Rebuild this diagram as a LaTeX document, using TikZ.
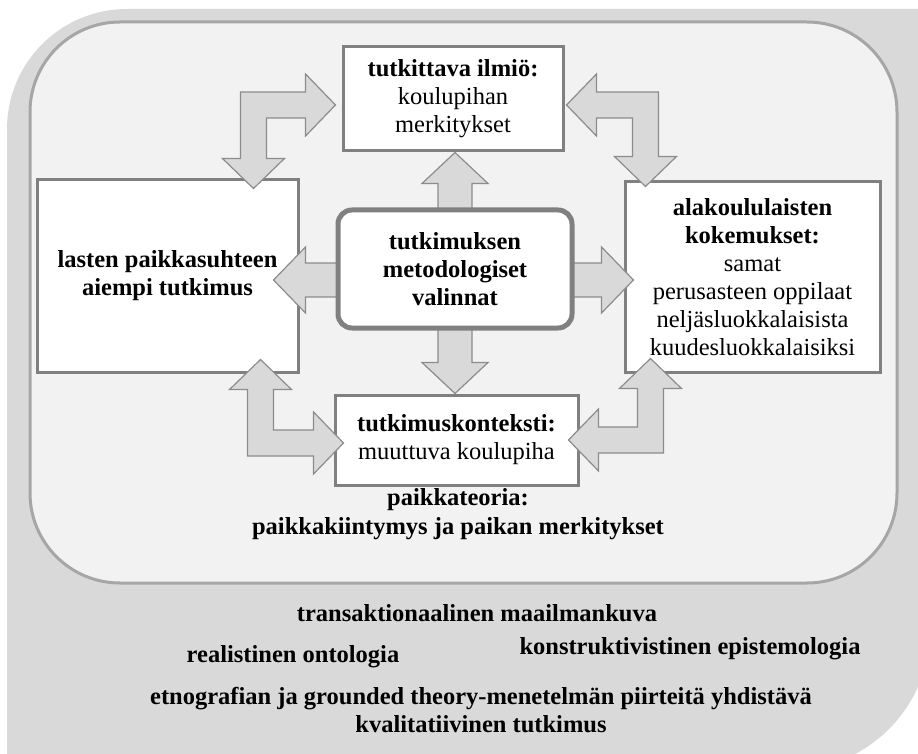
\documentclass[tikz,border=0pt]{standalone}
\usepackage{fontspec}
\setmainfont{Liberation Serif}
\usetikzlibrary{calc}

\definecolor{outergray}{HTML}{D9D9D9}
\definecolor{panelfill}{HTML}{F2F2F2}
\definecolor{panelline}{HTML}{A6A6A6}
\definecolor{boxline}{HTML}{808080}
\definecolor{arrowfill}{HTML}{D9D9D9}
\definecolor{arrowline}{HTML}{8C8C8C}

\tikzset{
  textsize/.style={font=\fontsize{24.5}{28}\selectfont},
  conceptbox/.style={draw=boxline, line width=3pt, fill=white, align=center,
    inner sep=0pt, textsize},
  corebox/.style={conceptbox, line width=5pt, rounded corners=14pt,
    font=\fontsize{24.5}{28}\selectfont\bfseries},
  blockarrow/.style={draw=arrowline, fill=arrowfill, line width=1.2pt, line join=miter},
  caption/.style={align=center, inner sep=0pt,
    font=\fontsize{24.5}{28.5}\selectfont\bfseries},
}

% L-shaped double block arrow: #1 = tip of the horizontal head,
% #2 = tip of the vertical head; the bend lies at (#2 |- #1)
\newcommand{\elbowarrow}[2]{%
  \path[blockarrow] let \p1=(#1), \p2=(#2),
      \n1={sign(\x1-\x2)}, \n2={sign(\y2-\y1)} in
    (\x1,\y1)
    -- ({\x1-(\n1)*30pt},{\y1-(\n2)*31pt})
    -- ({\x1-(\n1)*30pt},{\y1-(\n2)*13pt})
    -- ({\x2-(\n1)*13pt},{\y1-(\n2)*13pt})
    -- ({\x2-(\n1)*13pt},{\y2-(\n2)*30pt})
    -- ({\x2-(\n1)*31pt},{\y2-(\n2)*30pt})
    -- (\x2,\y2)
    -- ({\x2+(\n1)*31pt},{\y2-(\n2)*30pt})
    -- ({\x2+(\n1)*13pt},{\y2-(\n2)*30pt})
    -- ({\x2+(\n1)*13pt},{\y1+(\n2)*13pt})
    -- ({\x1-(\n1)*30pt},{\y1+(\n2)*13pt})
    -- ({\x1-(\n1)*30pt},{\y1+(\n2)*31pt})
    -- cycle;}

% straight block arrows from a tail (#1) to a tip (#2)
\newcommand{\harrow}[2]{%
  \path[blockarrow] let \p1=(#1), \p2=(#2), \n1={sign(\x2-\x1)} in
    (\x2,\y2)
    -- ({\x2-(\n1)*32pt},{\y2+33pt})
    -- ({\x2-(\n1)*32pt},{\y2+17pt})
    -- (\x1,{\y2+17pt})
    -- (\x1,{\y2-17pt})
    -- ({\x2-(\n1)*32pt},{\y2-17pt})
    -- ({\x2-(\n1)*32pt},{\y2-33pt})
    -- cycle;}
\newcommand{\varrow}[2]{%
  \path[blockarrow] let \p1=(#1), \p2=(#2), \n1={sign(\y2-\y1)} in
    (\x2,\y2)
    -- ({\x2+33pt},{\y2-(\n1)*31pt})
    -- ({\x2+17pt},{\y2-(\n1)*31pt})
    -- ({\x2+17pt},\y1)
    -- ({\x2-17pt},\y1)
    -- ({\x2-17pt},{\y2-(\n1)*31pt})
    -- ({\x2-33pt},{\y2-(\n1)*31pt})
    -- cycle;}

\begin{document}
\begin{tikzpicture}[x=1pt,y=-1pt]
  \useasboundingbox (0,0) rectangle (918,754);
  \clip (0,0) rectangle (918,754);

  % grey backdrop with two rounded corners
  \fill[outergray] (7,770) -- (7,129) arc[start angle=180, end angle=270, radius=120]
    -- (930,9) -- (930,630) arc[start angle=0, end angle=90, radius=140]
    -- (790,770) -- cycle;

  % light panel
  \draw[panelline, line width=3pt, fill=panelfill, rounded corners=90pt]
    (30,22) rectangle (897,583);

  % surrounding boxes
  \node[conceptbox, minimum width=220pt, minimum height=104pt] (top) at (453,99)
    {\textbf{tutkittava ilmiö:}\\koulupihan\\merkitykset};
  \node[conceptbox, minimum width=261pt, minimum height=192pt, font=\fontsize{24.5}{28}\selectfont\bfseries]
    (left) at (167.5,276) {lasten paikkasuhteen\\aiempi tutkimus};
  \node[conceptbox, minimum width=255pt, minimum height=190pt] (right) at (752.5,277)
    {\textbf{alakoululaisten}\\\textbf{kokemukset:}\\samat\\perusasteen oppilaat\\neljäsluokkalaisista\\kuudesluokkalaisiksi};
  \node[conceptbox, minimum width=243pt, minimum height=90pt] (bot) at (456.5,440)
    {\textbf{tutkimuskonteksti:}\\muuttuva koulupiha};

  % tips of the block arrows
  \coordinate (tlH) at ($(top.west)+(-6,6)$);
  \coordinate (tlV) at ($(left.north east)+(-46,10)$);
  \coordinate (trH) at ($(top.east)+(2,6)$);
  \coordinate (trV) at ($(right.north west)+(22,6)$);
  \coordinate (blH) at ($(bot.west)+(10,3)$);
  \coordinate (blV) at ($(left.south east)+(-39,-14)$);
  \coordinate (brH) at ($(bot.east)+(-11,0)$);
  \coordinate (brV) at ($(right.south west)+(27,-15)$);

  \elbowarrow{tlH}{tlV}
  \elbowarrow{trH}{trV}
  \elbowarrow{blH}{blV}
  \elbowarrow{brH}{brV}

  % central box and its four arrows
  \coordinate (core) at (455,269);
  \coordinate (upTip) at (core |- top.south);
  \coordinate (downTip) at (core |- bot.north);
  \coordinate (rightTip) at ($(right.west)+(10,3)$);
  \coordinate (leftTip) at ($(left.east)+(-26,4)$);
  \varrow{core}{upTip}
  \varrow{core}{downTip}
  \harrow{core}{rightTip}
  \harrow{core}{leftTip}

  \node[corebox, minimum width=234pt, minimum height=118pt] (mid) at (core)
    {tutkimuksen\\metodologiset\\valinnat};

  % theory and research approach
  \node[caption] (theory) at (458,514) {paikkateoria:\\paikkakiintymys ja paikan merkitykset};
  \node[caption] (worldview) at (477,613) {transaktionaalinen maailmankuva};
  \node[caption] (ontology) at (293,657) {realistinen ontologia};
  \node[caption] (epistemology) at (690,649) {konstruktivistinen epistemologia};
  \node[caption] (approach) at (481,710)
    {etnografian ja grounded theory-menetelmän piirteitä yhdistävä\\kvalitatiivinen tutkimus};
\end{tikzpicture}
\end{document}
